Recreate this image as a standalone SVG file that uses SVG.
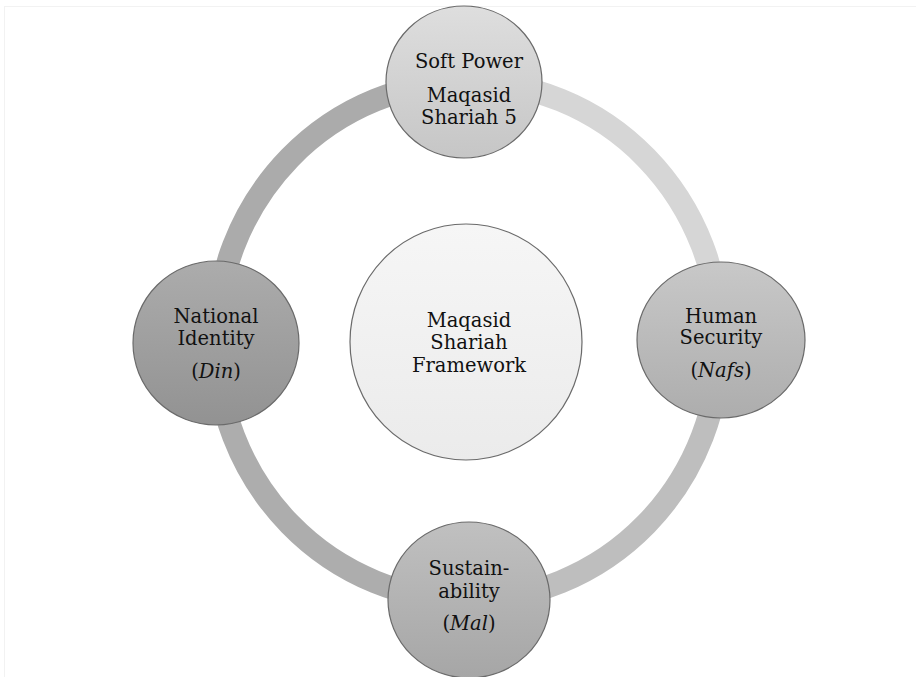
<svg xmlns="http://www.w3.org/2000/svg" width="916" height="677" viewBox="0 0 916 677">
<defs>
<linearGradient id="gTop" x1="0" y1="0" x2="0" y2="1"><stop offset="0" stop-color="#dedede"/><stop offset="1" stop-color="#c6c6c6"/></linearGradient>
<linearGradient id="gRight" x1="0" y1="0" x2="0" y2="1"><stop offset="0" stop-color="#c8c8c8"/><stop offset="1" stop-color="#adadad"/></linearGradient>
<linearGradient id="gBottom" x1="0" y1="0" x2="0" y2="1"><stop offset="0" stop-color="#c0c0c0"/><stop offset="1" stop-color="#a6a6a6"/></linearGradient>
<linearGradient id="gLeft" x1="0" y1="0" x2="0" y2="1"><stop offset="0" stop-color="#acacac"/><stop offset="1" stop-color="#929292"/></linearGradient>
<linearGradient id="gCenter" x1="0" y1="0" x2="0" y2="1"><stop offset="0" stop-color="#f6f6f6"/><stop offset="1" stop-color="#ebebeb"/></linearGradient>
</defs>
<style>
.node{stroke:#6a6a6a;stroke-width:1.2}
.ring{fill:none;stroke-width:23}
text{font-family:"DejaVu Serif","Liberation Serif",serif;font-size:19.5px;fill:#111;text-anchor:middle}
.it{font-style:italic}
</style>
<rect x="4.5" y="6.5" width="930" height="700" fill="#ffffff" stroke="#f2f2f2" stroke-width="1"/>
<g id="connectors">
<path class="ring" stroke="#ababab" d="M 216 341 A 252 259 0 0 1 468 82"/>
<path class="ring" stroke="#d6d6d6" d="M 468 82 A 252 259 0 0 1 720 341"/>
<path class="ring" stroke="#bebebe" d="M 720 341 A 252 259 0 0 1 468 600"/>
<path class="ring" stroke="#adadad" d="M 468 600 A 252 259 0 0 1 216 341"/>
</g>
<g id="center">
<ellipse class="node" cx="466" cy="342" rx="116" ry="118" fill="url(#gCenter)"/>
<text x="469" y="327">Maqasid</text>
<text x="469" y="349">Shariah</text>
<text x="469" y="372">Framework</text>
</g>
<g id="top">
<ellipse class="node" cx="464" cy="82" rx="78" ry="76" fill="url(#gTop)"/>
<text x="469" y="68">Soft Power</text>
<text x="469" y="102">Maqasid</text>
<text x="469" y="124">Shariah 5</text>
</g>
<g id="right">
<ellipse class="node" cx="721" cy="340" rx="84" ry="78" fill="url(#gRight)"/>
<text x="721" y="323">Human</text>
<text x="721" y="344">Security</text>
<text x="721" y="377">(<tspan class="it">Nafs</tspan>)</text>
</g>
<g id="bottom">
<ellipse class="node" cx="469" cy="600" rx="81" ry="78" fill="url(#gBottom)"/>
<text x="469" y="575">Sustain-</text>
<text x="469" y="598">ability</text>
<text x="469" y="630">(<tspan class="it">Mal</tspan>)</text>
</g>
<g id="left">
<ellipse class="node" cx="216" cy="343" rx="83" ry="82" fill="url(#gLeft)"/>
<text x="216" y="323">National</text>
<text x="216" y="345">Identity</text>
<text x="216" y="378">(<tspan class="it">Din</tspan>)</text>
</g>
</svg>
